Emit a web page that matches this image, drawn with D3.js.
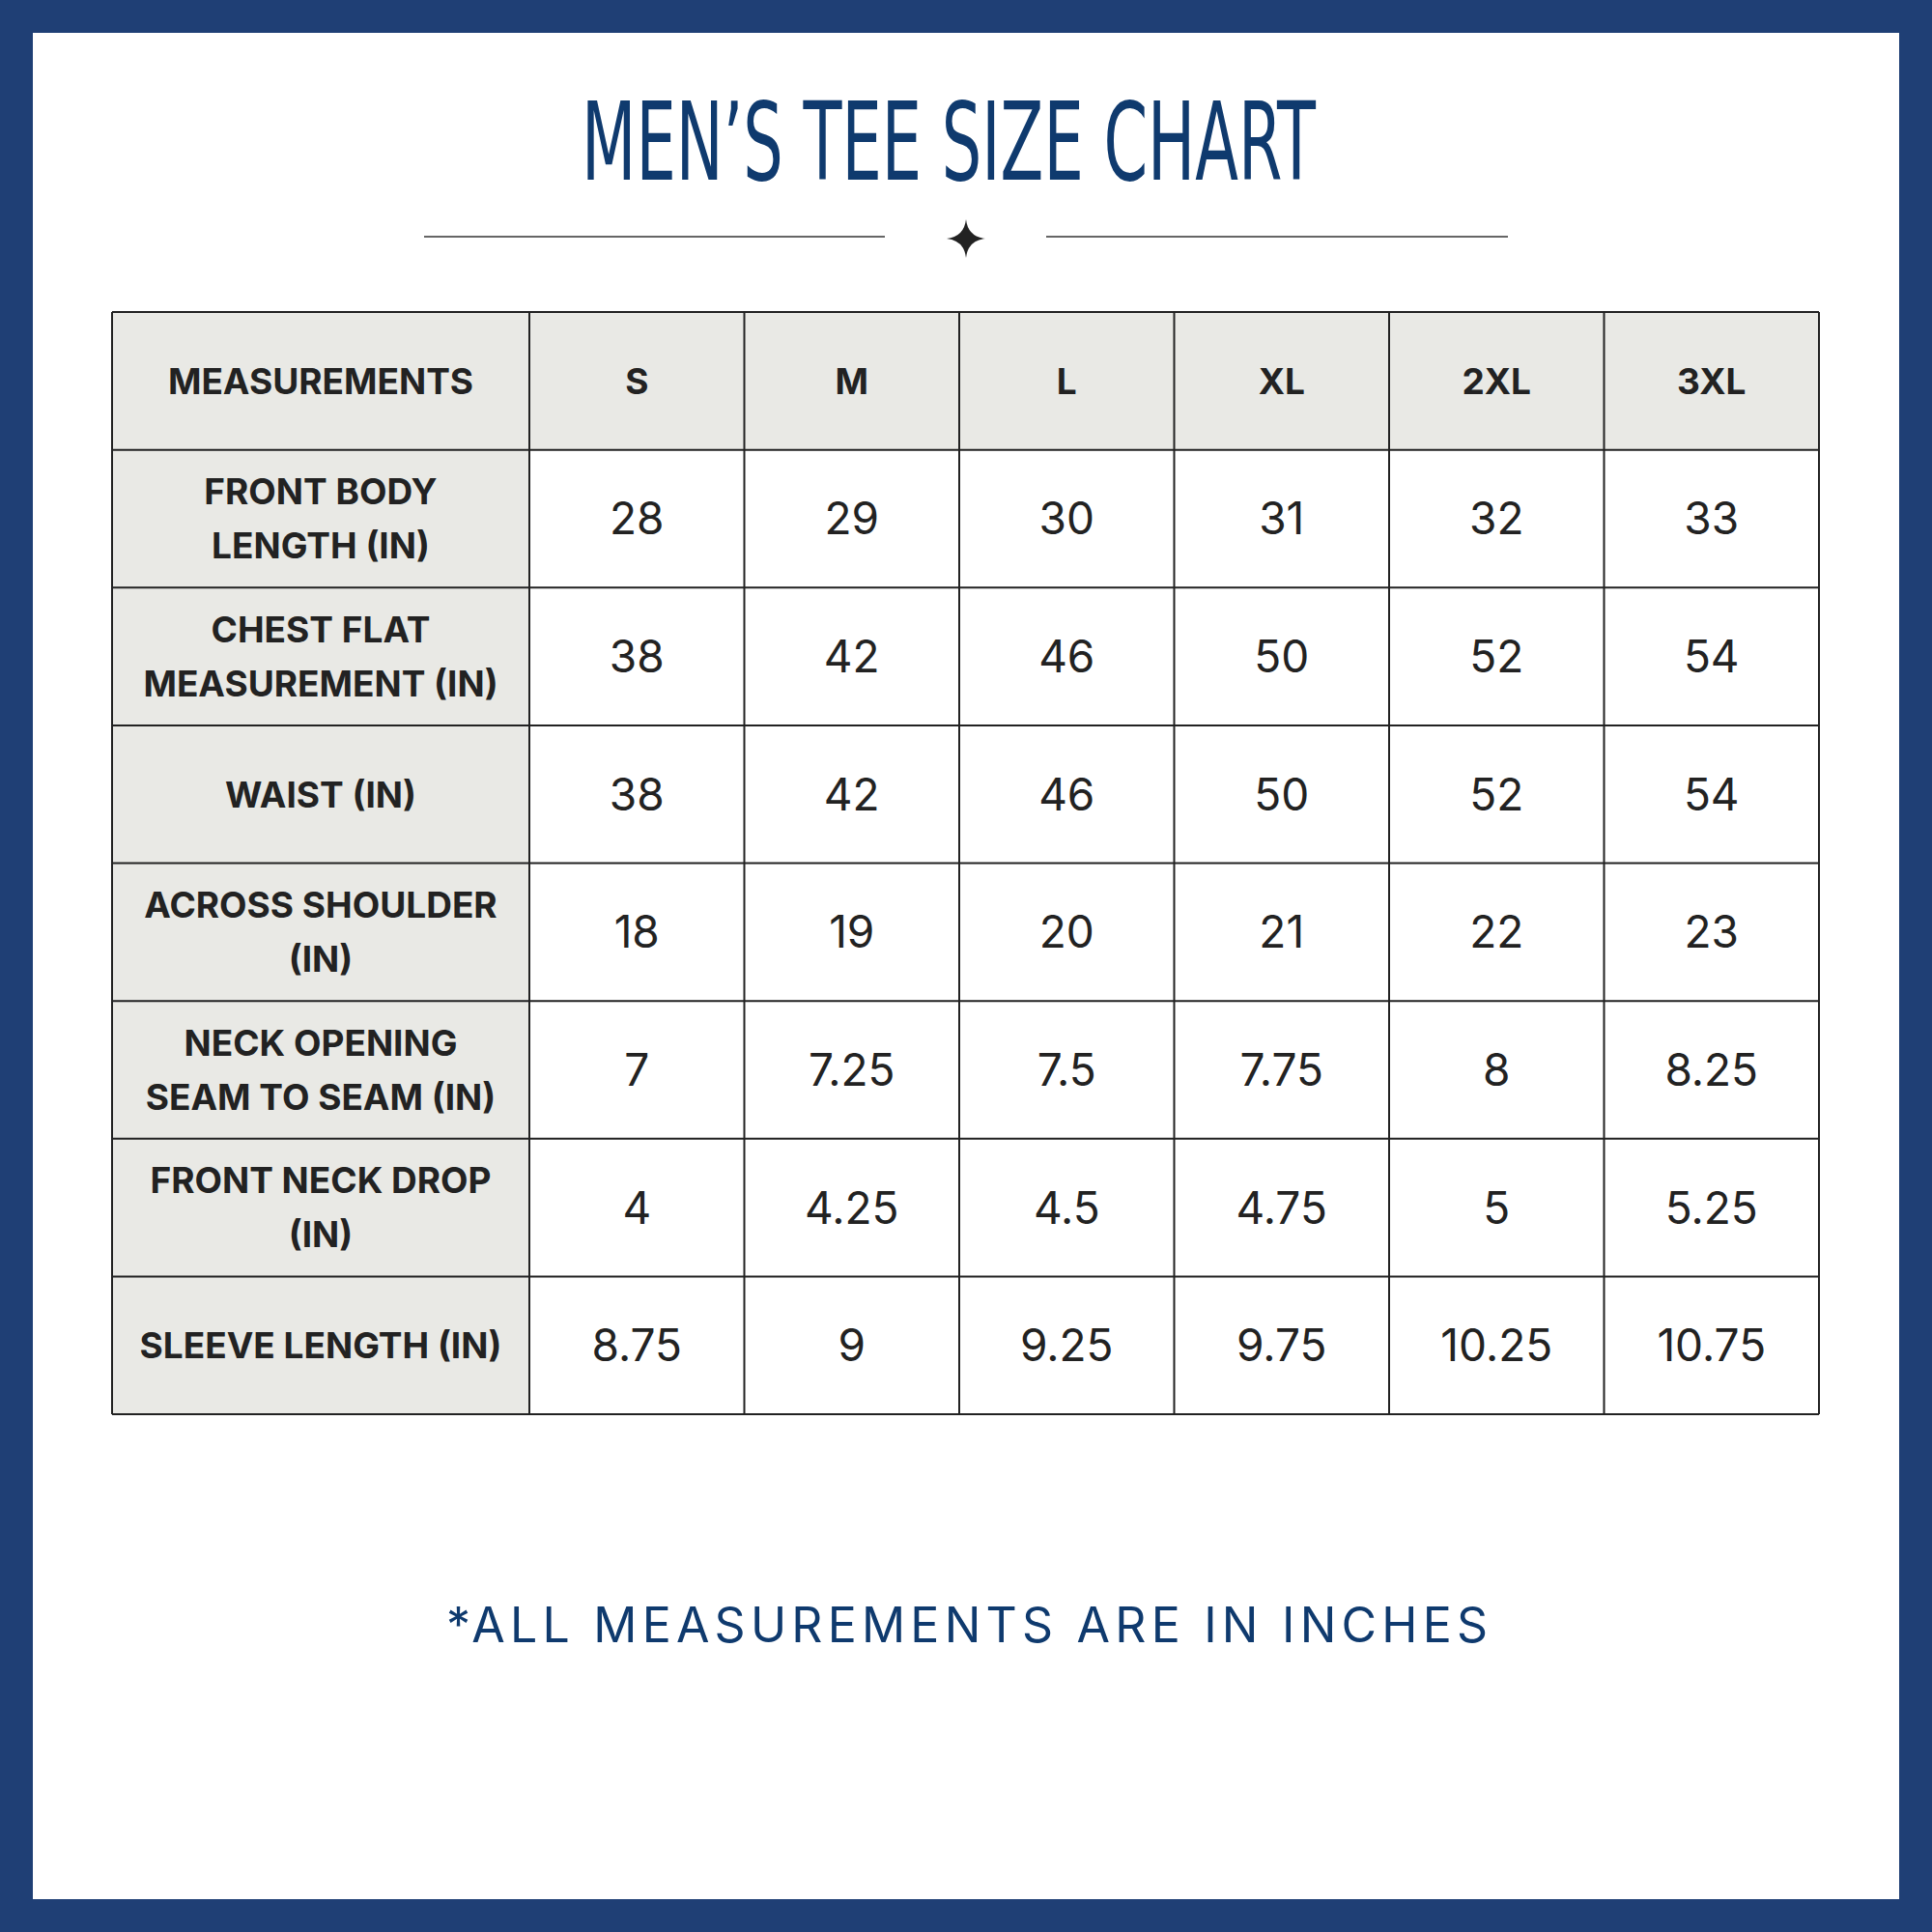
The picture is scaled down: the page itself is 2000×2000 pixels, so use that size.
<!DOCTYPE html>
<html><head><meta charset="utf-8">
<script src="https://cdn.jsdelivr.net/npm/d3@7"></script>
<style>body{margin:0;background:#fff}</style></head>
<body><div id="c"></div>
<script>
const sizes = ["S","M","L","XL","2XL","3XL"];
const measures = [["FRONT BODY","LENGTH (IN)"],["CHEST FLAT","MEASUREMENT (IN)"],["WAIST (IN)"],["ACROSS SHOULDER","(IN)"],["NECK OPENING","SEAM TO SEAM (IN)"],["FRONT NECK DROP","(IN)"],["SLEEVE LENGTH (IN)"]];
const frontBody = ["28","29","30","31","32","33"];
const chest = ["38","42","46","50","52","54"];
const waist = ["38","42","46","50","52","54"];
const shoulder = ["18","19","20","21","22","23"];
const neckOpening = ["7","7.25","7.5","7.75","8","8.25"];
const neckDrop = ["4","4.25","4.5","4.75","5","5.25"];
const sleeve = ["8.75","9","9.25","9.75","10.25","10.75"];
const values = [frontBody,chest,waist,shoulder,neckOpening,neckDrop,sleeve];

const W=2000,H=2000,navy="#0f3a6e",grey="#e9e9e5";
const svg=d3.select("#c").append("svg").attr("width",W).attr("height",H);
svg.append("rect").attr("width",W).attr("height",H).attr("fill","#1f3f75");
svg.append("rect").attr("x",34).attr("y",34).attr("width",1932).attr("height",1932).attr("fill","#fff");

svg.append("text").attr("x",982).attr("y",186).attr("text-anchor","middle")
 .attr("font-family","Liberation Sans Narrow, DejaVu Sans Condensed, sans-serif").attr("font-stretch","condensed")
 .attr("font-size",112).attr("fill",navy).attr("textLength",760).attr("lengthAdjust","spacingAndGlyphs")
 .text("MEN’S TEE SIZE CHART");
svg.append("line").attr("x1",439).attr("x2",916).attr("y1",245).attr("y2",245).attr("stroke","#333").attr("stroke-width",1.3);
svg.append("line").attr("x1",1083).attr("x2",1561).attr("y1",245).attr("y2",245).attr("stroke","#333").attr("stroke-width",1.3);
svg.append("path").attr("transform","translate(1000,247)")
 .attr("d","M0,-20 Q2,-2 20,0 Q2,2 0,20 Q-2,2 -20,0 Q-2,-2 0,-20Z").attr("fill","#222");

const x0=116,x1=548,xEnd=1883,y0=323,yEnd=1464;
const xs=d3.scaleBand().domain(sizes).range([x1,xEnd]);
const rows=["head",...measures.map((m,i)=>i)];
const ys=d3.scaleBand().domain(rows).range([y0,yEnd]);
const g=svg.append("g");
// header + first column fills
g.append("rect").attr("x",x0).attr("y",y0).attr("width",xEnd-x0).attr("height",ys.bandwidth()).attr("fill",grey);
g.selectAll(".fc").data(measures).join("rect").attr("x",x0).attr("y",(d,i)=>ys(i)).attr("width",x1-x0).attr("height",ys.bandwidth()).attr("fill",grey);
// grid
const bold="Inter, Lato, sans-serif";
rows.forEach(r=>g.append("line").attr("x1",x0).attr("x2",xEnd).attr("y1",ys(r)).attr("y2",ys(r)).attr("stroke","#222").attr("stroke-width",2));
g.append("line").attr("x1",x0).attr("x2",xEnd).attr("y1",yEnd).attr("y2",yEnd).attr("stroke","#222").attr("stroke-width",2);
[x0,...sizes.map(s=>xs(s)),xEnd].forEach(v=>g.append("line").attr("x1",v).attr("x2",v).attr("y1",y0).attr("y2",yEnd).attr("stroke","#222").attr("stroke-width",2));
const cx0=(x0+x1)/2, bh=ys.bandwidth();
g.append("text").attr("x",cx0).attr("y",ys("head")+bh/2).attr("dy","0.36em").attr("text-anchor","middle")
 .attr("font-family",bold).attr("font-weight",700).attr("font-size",37).attr("fill","#222").text("MEASUREMENTS");
sizes.forEach(s=>g.append("text").attr("x",xs(s)+xs.bandwidth()/2).attr("y",ys("head")+bh/2).attr("dy","0.36em")
 .attr("text-anchor","middle").attr("font-family",bold).attr("font-weight",700).attr("font-size",37).attr("fill","#222").text(s));
measures.forEach((m,i)=>{
  m.forEach((line,k)=>g.append("text").attr("x",cx0).attr("y",ys(i)+bh/2+(k-(m.length-1)/2)*56).attr("dy","0.36em")
   .attr("text-anchor","middle").attr("font-family",bold).attr("font-weight",700).attr("font-size",37).attr("fill","#222").text(line));
  values[i].forEach((v,j)=>g.append("text").attr("x",xs(sizes[j])+xs.bandwidth()/2).attr("y",ys(i)+bh/2).attr("dy","0.36em")
   .attr("text-anchor","middle").attr("font-family",bold).attr("font-size",46).attr("fill","#222").text(v));
});
svg.append("text").attr("x",1001).attr("y",1700).attr("text-anchor","middle").attr("font-family",bold)
 .attr("font-size",50).attr("fill",navy).attr("textLength",1078).attr("lengthAdjust","spacing")
 .text("*ALL MEASUREMENTS ARE IN INCHES");
</script></body></html>
